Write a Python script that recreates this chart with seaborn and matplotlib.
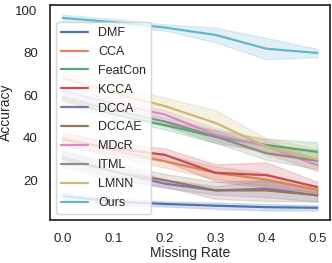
import numpy as np
import pandas as pd
import matplotlib
matplotlib.use("Agg")
import matplotlib.pyplot as plt
import seaborn as sns

# ── données ──────────────────────────────────────────────────────────────────
missing_rate = [0.0, 0.1, 0.2, 0.3, 0.4, 0.5]
methods = ["DMF", "CCA", "FeatCon", "KCCA", "DCCA", "DCCAE", "MDcR", "ITML", "LMNN", "Ours"]

acc_dmf     = [12.5, 10.0, 8.8, 8.0, 7.3, 7.0]
acc_cca     = [40.0, 34.0, 29.0, 23.5, 20.3, 15.5]
acc_featcon = [58.0, 51.0, 46.0, 40.5, 36.6, 33.4]
acc_kcca    = [39.0, 35.0, 32.0, 23.5, 22.4, 16.8]
acc_dcca    = [31.0, 24.0, 18.4, 15.2, 16.0, 12.9]
acc_dccae   = [30.0, 24.0, 20.0, 15.2, 15.2, 12.9]
acc_mdcr    = [62.0, 56.0, 51.0, 41.5, 36.0, 27.1]
acc_itml    = [59.0, 53.0, 47.7, 40.6, 32.7, 29.2]
acc_lmnn    = [68.3, 61.0, 55.0, 47.0, 35.8, 29.8]
acc_ours    = [96.5, 94.5, 92.0, 88.5, 82.0, 80.0]

# demi-largeur de la bande (min/max)
sd_dmf     = [1.5, 1.5, 1.2, 1.5, 1.5, 1.2]
sd_cca     = [3.0, 3.0, 3.0, 3.0, 3.0, 1.5]
sd_featcon = [2.0, 2.0, 2.0, 3.0, 3.0, 4.5]
sd_kcca    = [3.0, 3.0, 3.0, 4.0, 6.0, 2.5]
sd_dcca    = [3.0, 3.0, 2.0, 2.0, 4.0, 3.0]
sd_dccae   = [4.0, 4.0, 3.0, 4.0, 5.0, 3.0]
sd_mdcr    = [2.0, 2.0, 2.0, 3.0, 3.0, 3.0]
sd_itml    = [2.0, 2.0, 2.0, 3.0, 3.0, 4.0]
sd_lmnn    = [3.0, 4.0, 4.0, 6.0, 4.0, 5.0]
sd_ours    = [1.5, 1.5, 1.5, 3.5, 5.0, 2.0]

means = [acc_dmf, acc_cca, acc_featcon, acc_kcca, acc_dcca,
         acc_dccae, acc_mdcr, acc_itml, acc_lmnn, acc_ours]
spreads = [sd_dmf, sd_cca, sd_featcon, sd_kcca, sd_dcca,
           sd_dccae, sd_mdcr, sd_itml, sd_lmnn, sd_ours]

# table longue : 3 valeurs par point (bas, moyenne, haut)
rows = []
for m, mu, sd in zip(methods, means, spreads):
    for x, v, s in zip(missing_rate, mu, sd):
        for k in (-1, 0, 1):
            rows.append({"Missing Rate": x, "Accuracy": v + k * s, "method": m})
df = pd.DataFrame(rows)

sns.set_theme(style="white", palette="deep")
plt.rcParams["font.family"] = ["Liberation Sans", "DejaVu Sans"]

fig, ax = plt.subplots(figsize=(3.32, 2.63), dpi=100)
sns.lineplot(data=df, x="Missing Rate", y="Accuracy", hue="method",
             hue_order=methods, errorbar=("pi", 100), lw=1.6, ax=ax)

ax.set_xticks(missing_rate)
ax.set_xticklabels([f"{v:.1f}" for v in missing_rate])
ax.set_yticks([20, 40, 60, 80, 100])
ax.tick_params(labelsize=9.5, pad=3)
ax.set_xlabel("Missing Rate", fontsize=10, labelpad=1)
ax.set_ylabel("Accuracy", fontsize=10, labelpad=2)
ax.legend(loc="lower left", fontsize=9, labelspacing=0.55, handlelength=2.15,
          borderaxespad=0.5)

fig.subplots_adjust(left=0.151, right=0.994, bottom=0.163, top=0.981)
fig.savefig("out.png", dpi=100)
plt.close()
